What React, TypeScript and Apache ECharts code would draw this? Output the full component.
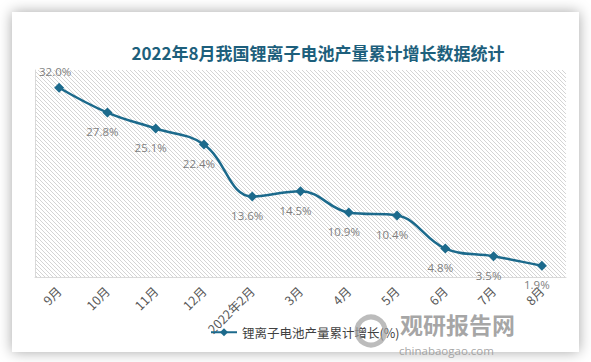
import React, { useEffect, useRef } from "react";
import * as echarts from "echarts";

const categories = ["9月", "10月", "11月", "12月", "2022年2月", "3月", "4月", "5月", "6月", "7月", "8月"];
const growth = [32.0, 27.8, 25.1, 22.4, 13.6, 14.5, 10.9, 10.4, 4.8, 3.5, 1.9];
const seriesName = "锂离子电池产量累计增长(%)";
const title = "2022年8月我国锂离子电池产量累计增长数据统计";

export default function App() {
  const ref = useRef<HTMLDivElement>(null);
  useEffect(() => {
    document.body.style.margin = "0";
    const tile = document.createElement("canvas");
    tile.width = 4;
    tile.height = 4;
    const ctx = tile.getContext("2d")!;
    ctx.fillStyle = "#ffffff";
    ctx.fillRect(0, 0, 4, 4);
    ctx.fillStyle = "#d4d4d4";
    for (let i = 0; i < 4; i++) ctx.fillRect(i, i, 1, 1);

    const chart = echarts.init(ref.current!, null, { renderer: "svg" });
    chart.setOption({
      animation: false,
      backgroundColor: "#ffffff",
      graphic: [
        {
          type: "rect",
          z: -10,
          shape: { x: 12, y: 12, width: 567, height: 340 },
          style: { fill: "#ffffff", shadowBlur: 14, shadowColor: "rgba(0,0,0,0.35)" },
          silent: true,
        },
        {
          type: "circle",
          z: 10,
          shape: { cx: 371, cy: 331, r: 14 },
          style: { fill: "none", stroke: "rgba(160,160,160,0.7)", lineWidth: 5 },
          silent: true,
        },
        {
          type: "text",
          z: 10,
          x: 400,
          y: 324,
          style: {
            text: "观研报告网",
            font: "bold 23px 'Noto Sans CJK SC'",
            fill: "rgba(150,150,150,0.85)",
            verticalAlign: "middle",
          },
          silent: true,
        },
        {
          type: "text",
          z: 10,
          x: 399,
          y: 350,
          style: {
            text: "chinabaogao.com",
            font: "11.5px 'Open Sans'",
            fill: "rgba(150,150,150,0.85)",
            verticalAlign: "middle",
          },
          silent: true,
        },
      ],
      title: {
        text: title,
        left: 313,
        textAlign: "center",
        top: 39,
        textStyle: {
          fontFamily: "'Noto Sans CJK SC'",
          fontWeight: "bold",
          fontSize: 17,
          color: "#1d5f7c",
        },
      },
      legend: {
        data: [seriesName],
        left: 205,
        top: 321,
        itemWidth: 26,
        itemHeight: 10,
        itemGap: 4,
        textStyle: { color: "#404040", fontSize: 12.5, fontFamily: "'Noto Sans CJK SC'" },
      },
      grid: {
        left: 35,
        right: 25,
        top: 70,
        bottom: 85,
        show: true,
        borderWidth: 0,
        backgroundColor: { image: tile, repeat: "repeat" },
      },
      xAxis: {
        type: "category",
        data: categories,
        boundaryGap: true,
        axisLine: { lineStyle: { color: "#d9d9d9" } },
        axisTick: { show: false },
        axisLabel: {
          rotate: 45,
          interval: 0,
          color: "#595959",
          fontSize: 12.5,
          margin: 12,
          fontFamily: "'Noto Sans CJK SC'",
        },
      },
      yAxis: {
        type: "value",
        min: 0,
        max: 35,
        axisLine: { show: true, lineStyle: { color: "#d9d9d9" } },
        axisLabel: { show: false },
        axisTick: { show: false },
        splitLine: { show: false },
      },
      series: [
        {
          name: seriesName,
          type: "line",
          data: growth.map((v, i) =>
            i === 0
              ? { value: v, label: { position: "top", offset: [-4, 2] } }
              : { value: v }
          ),
          smooth: 0.4,
          symbol: "diamond",
          symbolSize: 10,
          itemStyle: { color: "#1c6a8c" },
          lineStyle: { color: "#1c6a8c", width: 2.5 },
          label: {
            show: true,
            position: "bottom",
            distance: 7,
            offset: [-5, 1],
            color: "#7f7f7f",
            fontSize: 11.5,
            fontFamily: "'Open Sans'",
            formatter: (p: any) => p.value.toFixed(1) + "%",
          },
        },
      ],
    });
    return () => chart.dispose();
  }, []);
  return <div ref={ref} style={{ width: 591, height: 362 }} />;
}
